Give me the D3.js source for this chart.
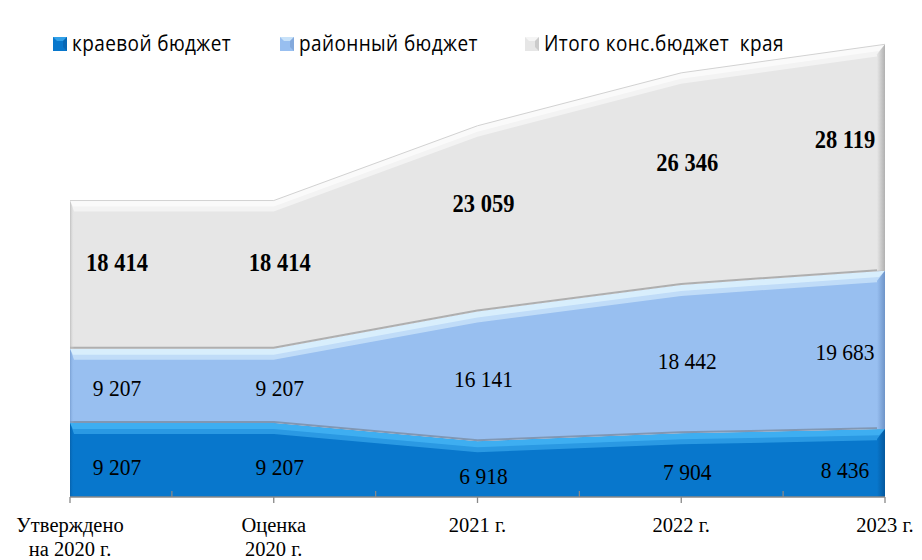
<!DOCTYPE html>
<html lang="ru">
<head>
<meta charset="UTF-8">
<title>Бюджет</title>
<script src="https://cdn.jsdelivr.net/npm/d3@7/dist/d3.min.js"></script>
<style>
    body{margin:0;background:#fff}
    svg{display:block}
    text{white-space:pre}
</style>
</head>
<body>
<div class="chart"></div>
<script>
    //data
    const categories=['Утверждено|на 2020 г.','Оценка|2020 г.','2021 г.','2022 г.','2023 г.']
    const kraevoy=[9207,9207,6918,7904,8436]
    const rayonny=[9207,9207,16141,18442,19683]
    const itogo=[18414,18414,23059,26346,28119]
    const seriesNames=['краевой бюджет','районный бюджет','Итого конс.бюджет  края']
    const keys=['k','r','t']

    const table=categories.map((c,i)=>({cat:c,k:kraevoy[i],r:rayonny[i],t:itogo[i]}))
    const fmt=v=>d3.format(',')(v).replace(/,/g,' ')

    //look
    const W=922,H=560
    const colors={
        k:{face:'#0877cc',light:'#4cbcfa',dark:'#05589e',shade:'#0a5fa6'},
        r:{face:'#98bff0',light:'#e8faff',dark:'#6e94c8',shade:'#7d8fa8'},
        t:{face:'#e6e6e6',light:'#ffffff',dark:'#b0b0b0',shade:'#a4a4a4'}
    }

    const svg=d3.select('.chart').append('svg').attr('width',W).attr('height',H)
    const defs=svg.append('defs')

    let x=d3.scalePoint().domain(categories).range([70,885])
    let y=d3.scaleLinear().domain([0,60000]).range([497,14])
    const x0=x(categories[0]),x1=x(categories[categories.length-1])

    const stack=d3.stack().keys(keys)
    const layers=stack(table)

    const area=d3.area().x((d,i)=>x(categories[i])).y0(d=>y(d[0])).y1(d=>y(d[1]))
    const line1=d3.line().x((d,i)=>x(categories[i])).y(d=>y(d[1]))
    const line0=d3.line().x((d,i)=>x(categories[i])).y(d=>y(d[0]))

    //band under the top edge, offset straight down
    function bevel(layer,depth,inL,inR){
        const pts=layer.map((d,i)=>[x(categories[i]),y(d[1])])
        const n=pts.length
        const yAt=(xx)=>{
            for(let i=0;i<n-1;i++){
                if(xx>=pts[i][0]&&xx<=pts[i+1][0]){
                    const t=(xx-pts[i][0])/(pts[i+1][0]-pts[i][0])
                    return pts[i][1]+t*(pts[i+1][1]-pts[i][1])
                }
            }
            return pts[n-1][1]
        }
        const inner=[[x1-inR,yAt(x1-inR)+depth]]
        for(let i=n-2;i>0;i--) inner.push([pts[i][0],pts[i][1]+depth])
        inner.push([x0+inL,yAt(x0+inL)+depth])
        return 'M'+pts.concat(inner).map(p=>p.join(',')).join('L')+'Z'
    }

    keys.forEach(k=>{
        const c=colors[k]
        const gr=defs.append('linearGradient').attr('id','gr'+k).attr('x1',0).attr('x2',1).attr('y1',0).attr('y2',0)
        gr.append('stop').attr('offset',0).attr('stop-color',c.face)
        gr.append('stop').attr('offset',1).attr('stop-color',c.dark)
        const gl=defs.append('linearGradient').attr('id','gl'+k).attr('x1',0).attr('x2',1).attr('y1',0).attr('y2',0)
        gl.append('stop').attr('offset',0).attr('stop-color',c.dark).attr('stop-opacity',0.7)
        gl.append('stop').attr('offset',1).attr('stop-color',c.face).attr('stop-opacity',0)
    })

    layers.forEach(layer=>{
        const k=layer.key,c=colors[k]
        defs.append('clipPath').attr('id','clip'+k).append('path').attr('d',area(layer))
        const g=svg.append('g').attr('clip-path','url(#clip'+k+')')
        g.append('path').attr('d',area(layer)).attr('fill',c.face)
        //shadow at the lower edge
        if(k!=='k') g.append('path').attr('d',line0(layer)).attr('fill','none').attr('stroke',c.shade).attr('stroke-width',4).attr('opacity',0.85)
        //top bevel
        g.append('path').attr('d',bevel(layer,11,4,8)).attr('fill',c.light).attr('opacity',0.5)
        g.append('path').attr('d',bevel(layer,6,3,6)).attr('fill',c.light).attr('opacity',0.6)
        //left and right sides
        const f=layer[0],l=layer[layer.length-1]
        g.append('path').attr('d',`M${x0},${y(f[1])}L${x0+4},${y(f[1])+10}L${x0+4},${y(f[0])}L${x0},${y(f[0])}Z`)
            .attr('fill','url(#gl'+k+')')
        g.append('path').attr('d',`M${x1},${y(l[1])}L${x1-8},${y(l[1])+10}L${x1-8},${y(l[0])}L${x1},${y(l[0])}Z`)
            .attr('fill','url(#gr'+k+')')
    })
    //thin back edge on top
    svg.append('path').attr('d',line1(layers[2])).attr('fill','none').attr('stroke','#d2d2d2').attr('stroke-width',1)

    //axis
    const mids=categories.slice(1).map((c,i)=>(x(categories[i])+x(c))/2)
    svg.append('line').attr('x1',x0).attr('x2',x1).attr('y1',y(0)).attr('y2',y(0)).attr('stroke','#888').attr('stroke-width',1.3)
    svg.selectAll('.maj').data(categories).join('line').attr('class','maj')
        .attr('x1',d=>x(d)).attr('x2',d=>x(d)).attr('y1',y(0)).attr('y2',y(0)+6).attr('stroke','#888').attr('stroke-width',1.3)
    svg.selectAll('.min').data(mids).join('line').attr('class','min')
        .attr('x1',d=>d).attr('x2',d=>d).attr('y1',y(0)-6).attr('y2',y(0)).attr('stroke','#888').attr('stroke-width',1.3)

    const serif='"Liberation Serif","Times New Roman",serif'
    categories.forEach(c=>{
        c.split('|').forEach((s,j)=>{
            svg.append('text').attr('x',x(c)).attr('y',532+j*23.5)
                .attr('text-anchor','middle').attr('font-family',serif).attr('font-size',20.5).attr('fill','#000').text(s)
        })
    })

    //value labels
    const n=categories.length
    const lx=i=>x(categories[i])+(i===0?47:i===n-1?-40:6)
    const label=(txt,xx,yy,bold)=>svg.append('text').attr('transform',`translate(${xx},${yy}) scale(1,1.1)`)
        .attr('text-anchor','middle').attr('dy','0.35em').attr('font-family',serif).attr('font-size',bold?22.5:21.5)
        .attr('font-weight',bold?'bold':'normal').attr('fill','#000').text(txt)
    layers[0].forEach((d,i)=>label(fmt(kraevoy[i]),lx(i),(y(d[0])+y(d[1]))/2+7))
    layers[1].forEach((d,i)=>label(fmt(rayonny[i]),lx(i),(y(d[0])+y(d[1]))/2+2))
    layers[2].forEach((d,i)=>label(fmt(itogo[i]),lx(i),y(d[1])+(y(d[0])-y(d[1]))*0.42,true))

    //legend
    const legX=[53,280,525]
    const lg=svg.selectAll('.leg').data(keys).join('g').attr('class','leg').attr('transform',(d,i)=>`translate(${legX[i]},37)`)
    lg.append('rect').attr('width',14).attr('height',14).attr('fill',d=>colors[d].face)
    lg.append('path').attr('d','M0,0L14,0L10,4L4,4Z').attr('fill',d=>colors[d].light).attr('opacity',0.6)
    lg.append('path').attr('d','M14,0L14,14L10,10L10,4Z').attr('fill',d=>colors[d].dark).attr('opacity',0.5)
    lg.append('text').attr('transform','translate(19,14) scale(1,1.1)')
        .attr('font-family','"Open Sans","Noto Sans",sans-serif').attr('font-size',19).attr('letter-spacing',0.4).attr('fill','#000')
        .text((d,i)=>seriesNames[i])
</script>
</body>
</html>
